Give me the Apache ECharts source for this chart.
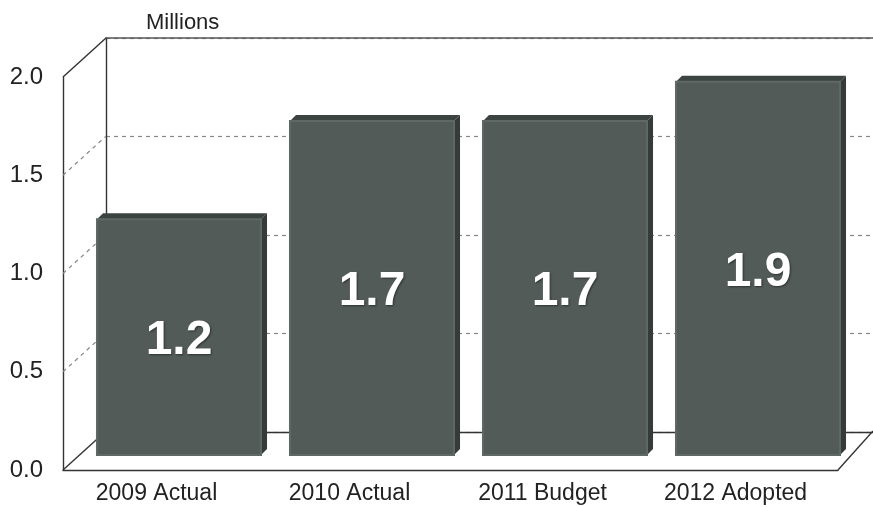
<!DOCTYPE html>
<html>
<head>
<meta charset="utf-8">
<script src="https://cdn.jsdelivr.net/npm/echarts@6/dist/echarts.min.js"></script>
<style>
  html, body { margin: 0; padding: 0; background: #ffffff; }
  #chart { width: 873px; height: 507px; }
</style>
</head>
<body>
<div id="chart"></div>
<script>
// Data
const categories = ['2009 Actual', '2010 Actual', '2011 Budget', '2012 Adopted'];
const values = [1.2, 1.7, 1.7, 1.9];
const yTicks = [0, 0.5, 1.0, 1.5, 2.0];
const unitLabel = 'Millions';

// Layout of the 3D box (pixels)
const FONT = "'Liberation Sans', Arial, Helvetica, sans-serif";
const frontLeft = 63, frontTop = 77, frontBottom = 470, frontRight = 838;
const depthX = 43, depthY = 39;
const plotH = frontBottom - frontTop;          // pixels for 0..2
const yMax = 2;
const depthRise = depthY / (plotH / yMax);     // back-wall lift in value units
const barDepth = 6;                            // thickness of bar top/side faces
const barShift = 8;                            // bars stand between front and back

const chart = echarts.init(document.getElementById('chart'), null, { renderer: 'canvas' });

const solidLine = { color: '#333', width: 1.4, type: 'solid' };
const dashLine = { color: '#888', width: 1.2, type: [4, 4] };

// Left-side connectors between the front axis and the back wall
const depthSeries = yTicks.map(v => ({
  type: 'line',
  xAxisIndex: 3, yAxisIndex: 2,
  data: [[0, v], [1, v + depthRise]],
  symbol: 'none', silent: true, animation: false,
  lineStyle: (v === 0 || v === yMax) ? solidLine : dashLine,
  z: 2
}));

const barSeries = {
  type: 'custom',
  xAxisIndex: 4, yAxisIndex: 3,
  data: values.map((v, i) => [i, v]),
  animation: false,
  z: 10,
  renderItem: function (params, api) {
    const idx = api.value(0);
    const val = api.value(1);
    const top = api.coord([idx, val]);
    const base = api.coord([idx, 0]);
    const band = api.size([1, 0])[0];
    const w = band * 0.85;
    const x0 = top[0] - w / 2, x1 = x0 + w;
    const yt = top[1], yb = base[1];
    const d = barDepth;
    return {
      type: 'group',
      children: [
        { type: 'polygon', shape: { points: [[x0, yt], [x0 + d, yt - d], [x1 + d, yt - d], [x1, yt]] },
          style: { fill: '#3c4441' } },
        { type: 'polygon', shape: { points: [[x1, yt], [x1 + d, yt - d], [x1 + d, yb - d], [x1, yb]] },
          style: { fill: '#343b39' } },
        { type: 'rect', shape: { x: x0, y: yt, width: w, height: yb - yt },
          style: { fill: '#525b58', stroke: '#5f6865', lineWidth: 2 } },
        { type: 'text',
          style: {
            text: val.toFixed(1),
            x: (x0 + x1) / 2, y: (yt + yb) / 2 + 4,
            align: 'center', verticalAlign: 'middle',
            fill: '#ffffff', font: 'bold 48px ' + FONT,
            textShadowColor: 'rgba(0,0,0,0.45)', textShadowBlur: 2,
            textShadowOffsetX: 1, textShadowOffsetY: 1
          } }
      ]
    };
  }
};

const option = {
  backgroundColor: '#ffffff',
  animation: false,
  title: {
    text: unitLabel, left: 141, top: 7,
    textStyle: { fontFamily: FONT, fontSize: 22, fontWeight: 'normal', color: '#222' }
  },
  grid: [
    // 0: front plane (value axis + floor front edge)
    { left: frontLeft, top: frontTop, width: frontRight - frontLeft, height: plotH },
    // 1: back wall
    { left: frontLeft + depthX, top: frontTop - depthY, width: 800, height: plotH + 1 },
    // 2: left-side depth connectors
    { left: frontLeft, top: frontTop - depthY, width: depthX, height: plotH + depthY },
    // 3: bars
    { left: 82.5, top: frontTop - barShift - 7, width: 772, height: plotH },
    // 4: category labels along the front floor edge
    { left: 60, top: frontTop - barShift - 7, width: 772, height: plotH },
    // 5: right floor corner
    { left: frontRight, top: frontBottom - depthY, width: depthX, height: depthY }
  ],
  xAxis: [
    // 0: front floor edge
    { gridIndex: 0, type: 'value', min: 0, max: 1, axisLine: { show: true, lineStyle: solidLine },
      axisTick: { show: false }, axisLabel: { show: false }, splitLine: { show: false } },
    // 1, 2: back wall floor line and top edge
    { gridIndex: 1, type: 'value', min: 0, max: 1, position: 'bottom',
      axisLine: { show: true, onZero: false, lineStyle: solidLine },
      axisTick: { show: false }, axisLabel: { show: false }, splitLine: { show: false } },
    { gridIndex: 1, type: 'value', min: 0, max: 1, position: 'top',
      axisLine: { show: true, onZero: false, lineStyle: { color: '#555', width: 1.6 } },
      axisTick: { show: false }, axisLabel: { show: false }, splitLine: { show: false } },
    { gridIndex: 2, type: 'value', min: 0, max: 1, show: false },
    { gridIndex: 3, type: 'category', data: categories, show: false },
    { gridIndex: 4, type: 'category', data: categories,
      axisLine: { show: false }, axisTick: { show: false },
      axisLabel: { margin: 27, fontFamily: FONT, fontSize: 23, color: '#222' } },
    { gridIndex: 5, type: 'value', min: 0, max: 1, show: false }
  ],
  yAxis: [
    { gridIndex: 0, type: 'value', min: 0, max: yMax, interval: 0.5,
      axisLine: { show: true, lineStyle: solidLine },
      axisTick: { show: false }, splitLine: { show: false },
      axisLabel: { margin: 20, fontFamily: FONT, fontSize: 24, color: '#222',
        formatter: v => v.toFixed(1) } },
    { gridIndex: 1, type: 'value', min: 0, max: yMax, interval: 0.5,
      axisLine: { show: true, lineStyle: solidLine },
      axisTick: { show: false }, axisLabel: { show: false },
      splitLine: { show: true, lineStyle: dashLine } },
    { gridIndex: 2, type: 'value', min: 0, max: yMax + depthRise, show: false },
    { gridIndex: 3, type: 'value', min: 0, max: yMax, show: false },
    { gridIndex: 4, type: 'value', min: 0, max: yMax, show: false },
    { gridIndex: 5, type: 'value', min: 0, max: 1, show: false }
  ],
  series: [
    ...depthSeries,
    {
      type: 'line', xAxisIndex: 6, yAxisIndex: 5,
      data: [[0, 0], [1, 1]], symbol: 'none', silent: true,
      lineStyle: solidLine, z: 2
    },
    barSeries
  ]
};

chart.setOption(option);
</script>
</body>
</html>
